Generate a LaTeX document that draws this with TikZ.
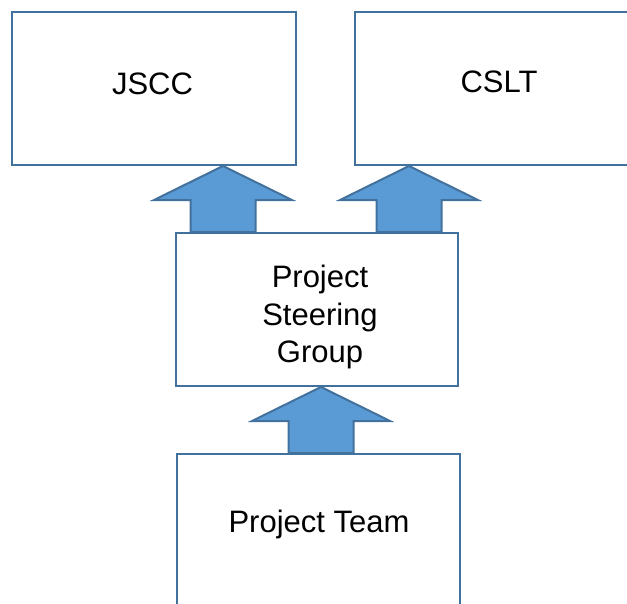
\documentclass[tikz,border=0pt]{standalone}
\usepackage{fontspec}
\setmainfont{Liberation Sans}
\usetikzlibrary{calc}
\definecolor{edgeblue}{HTML}{41719C}
\definecolor{fillblue}{HTML}{5B9BD5}
\tikzset{
  box/.style={draw=edgeblue, line width=2pt, fill=white, inner sep=0pt},
  labeltext/.style={inner sep=0pt, align=center, font=\fontsize{31}{37.5}\selectfont},
  barrow/.style={draw=edgeblue, line width=2pt, fill=fillblue, line join=miter}
}
\newcommand\blockarrow[3]{%
  \coordinate (tmpx) at (#1,0);
  \path (#2.south -| tmpx) coordinate (tip) (#3.north -| tmpx) coordinate (base);
  \draw[barrow] (tip) -- ($(tip)+(69,34)$) -- ($(tip)+(32.5,34)$) -- ($(base)+(32.5,0)$)
    -- ($(base)+(-32.5,0)$) -- ($(tip)+(-32.5,34)$) -- ($(tip)+(-69,34)$) -- cycle;
}
\begin{document}
\begin{tikzpicture}[x=1pt,y=-1pt]
\useasboundingbox (0,0) rectangle (627,603);
\clip (0,0) rectangle (627,603);
\node[box, minimum width=284pt, minimum height=153pt] (jscc) at (154,88.5) {};
\node[box, minimum width=286pt, minimum height=153pt] (cslt) at (498,88.5) {};
\node[box, minimum width=282pt, minimum height=153pt] (psg) at (317,309.5) {};
\node[box, minimum width=283pt, minimum height=200pt] (pt) at (318.5,554) {};
\node[labeltext, anchor=base] (jsccl) at (152.5,94) {JSCC};
\node[labeltext, anchor=base] (csltl) at (499,92) {CSLT};
\node[labeltext, anchor=north] (psgl) at (320,265) {Project\\Steering\\Group};
\node[labeltext, anchor=base] (ptl) at (319,532) {Project Team};
\blockarrow{223}{jscc}{psg}
\blockarrow{409}{cslt}{psg}
\blockarrow{321}{psg}{pt}
\end{tikzpicture}
\end{document}
